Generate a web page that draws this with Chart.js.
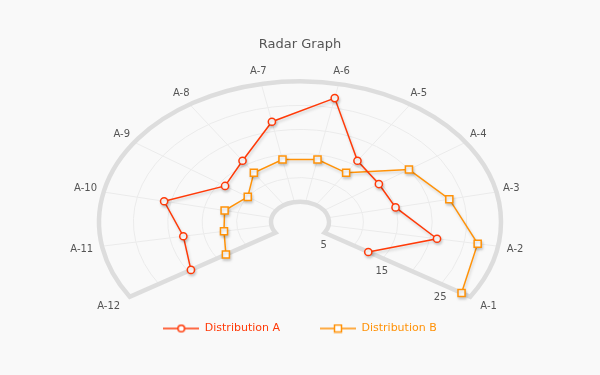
<!DOCTYPE html>
<html>
<head>
<meta charset="utf-8">
<title>Radar Graph</title>
<script src="https://cdn.jsdelivr.net/npm/chart.js@4.4.1/dist/chart.umd.min.js"></script>
<style>
    html, body { margin: 0; padding: 0; background: #f9f9f9; }
    #chartWrap { width: 600px; height: 375px; }
</style>
</head>
<body>
<div id="chartWrap"><canvas id="radarChart"></canvas></div>
<script>
var categories = ['A-1', 'A-2', 'A-3', 'A-4', 'A-5', 'A-6', 'A-7', 'A-8', 'A-9', 'A-10', 'A-11', 'A-12'];
var distributionA = [12.5, 21, 15, 14.7, 16, 27, 22, 16, 14, 21, 18, 19.5];
var distributionB = [28.5, 27, 23, 20, 13, 14, 14, 13, 10, 12, 12, 13.5];
var tickLabels = [5, 15, 25];
var gridValues = [10, 15, 20, 25];
var scaleMin = 5;
var scaleMax = 30;

var RED = '#ff3a08';
var ORANGE = '#ff9208';
var TEXT = '#555555';

//-------------
//- Geometry of the open radar -
//--------------
var STEP_DEG = 22.2;      // angle between two categories
var FLATTEN = 0.70;       // vertical squash of the radar
var HOLE = 29;            // inner hole radius in px
var CENTER_X = 300;
var CENTER_Y = 222;
var OUTER = 201;
var LABEL_PAD = 7;

// chart runs clockwise, the picture runs A-1 -> A-12 counter clockwise;
// one empty slot at the end keeps the line from closing
function toChartOrder(arr, empty) {
    return arr.slice().reverse().concat([empty]);
}

class PartialRadarScale extends Chart.RadialLinearScale {
    setCenterPoint() {
        this.xCenter = CENTER_X;
        this.yCenter = CENTER_Y;
        this.drawingArea = OUTER;
    }
    getIndexAngle(index) {
        var a = ((this.options.startAngle || 0) + index * STEP_DEG) * Math.PI / 180;
        a = a % (Math.PI * 2);
        return a < 0 ? a + Math.PI * 2 : a;
    }
    getDistanceFromCenterForValue(value) {
        if (value === null || value === undefined || isNaN(value)) {
            return NaN;
        }
        var t = (value - this.min) / (this.max - this.min);
        return HOLE + t * (this.drawingArea - HOLE);
    }
    getPointPosition(index, distance, additionalAngle) {
        var angle = this.getIndexAngle(index) - Math.PI / 2 + (additionalAngle || 0);
        return {
            x: Math.cos(angle) * distance + this.xCenter,
            y: Math.sin(angle) * distance * FLATTEN + this.yCenter,
            angle: angle
        };
    }
}
PartialRadarScale.id = 'partialRadar';
PartialRadarScale.defaults = Chart.RadialLinearScale.defaults;
Chart.register(PartialRadarScale);

function arcRange(scale) {
    var a0 = scale.getIndexAngle(0) - Math.PI / 2;
    var a1 = scale.getIndexAngle(categories.length - 1) - Math.PI / 2;
    if (a1 < a0) {
        a1 += Math.PI * 2;
    }
    return [a0, a1];
}

var framePlugin = {
    id: 'partialFrame',
    beforeDatasetsDraw: function (chart) {
        var ctx = chart.ctx;
        var scale = chart.scales.r;
        var range = arcRange(scale);
        var xc = scale.xCenter, yc = scale.yCenter;

        ctx.save();
        // rings
        ctx.lineWidth = 1;
        ctx.strokeStyle = '#ebebeb';
        gridValues.forEach(function (v) {
            var d = scale.getDistanceFromCenterForValue(v);
            ctx.beginPath();
            ctx.ellipse(xc, yc, d, d * FLATTEN, 0, range[0], range[1]);
            ctx.stroke();
        });
        // spokes
        for (var i = 0; i < categories.length; i++) {
            var p0 = scale.getPointPosition(i, HOLE);
            var p1 = scale.getPointPosition(i, scale.drawingArea);
            ctx.beginPath();
            ctx.moveTo(p0.x, p0.y);
            ctx.lineTo(p1.x, p1.y);
            ctx.stroke();
        }
        // thick border
        var innerEnd = scale.getPointPosition(categories.length - 1, HOLE);
        ctx.beginPath();
        ctx.ellipse(xc, yc, scale.drawingArea, scale.drawingArea * FLATTEN, 0, range[0], range[1]);
        ctx.lineTo(innerEnd.x, innerEnd.y);
        ctx.ellipse(xc, yc, HOLE, HOLE * FLATTEN, 0, range[1], range[0], true);
        ctx.closePath();
        ctx.lineWidth = 4.5;
        ctx.strokeStyle = '#dddddd';
        ctx.stroke();
        ctx.restore();

        // the frame reaches below the legend's top, so let points draw on the whole canvas
        chart._plotArea = chart.chartArea;
        chart.chartArea = { left: 0, top: 0, right: chart.width, bottom: chart.height, width: chart.width, height: chart.height };

        // soft shadow under the series
        ctx.save();
        ctx.shadowColor = 'rgba(0,0,0,0.18)';
        ctx.shadowBlur = 3;
        ctx.shadowOffsetX = 1;
        ctx.shadowOffsetY = 2;
    },
    afterDatasetsDraw: function (chart) {
        var ctx = chart.ctx;
        var scale = chart.scales.r;
        ctx.restore();
        chart.chartArea = chart._plotArea;

        ctx.save();
        ctx.font = '10px "DejaVu Sans"';
        ctx.fillStyle = TEXT;
        ctx.textAlign = 'center';
        ctx.textBaseline = 'middle';
        for (var i = 0; i < categories.length; i++) {
            var text = chart.data.labels[i];
            var base = scale.getPointPosition(i, scale.drawingArea);
            var w = ctx.measureText(text).width;
            var c = Math.cos(base.angle), s = Math.sin(base.angle);
            var x = base.x + c * (LABEL_PAD + w / 2);
            var y = base.y + s * (LABEL_PAD + 5) - 1;
            if (s > 0) {
                // labels under the centre sit a little further out
                x += c * 12 * s;
                y += 1 + 7 * s;
            }
            ctx.fillText(text, x, y);
        }
        // value labels along the A-1 edge
        var axisIndex = categories.length - 1;
        tickLabels.forEach(function (v) {
            var p = scale.getPointPositionForValue(axisIndex, v);
            ctx.fillText(String(v), p.x - 1, p.y + 13);
        });
        ctx.restore();
    }
};

function legendMarker(color, style) {
    var c = document.createElement('canvas');
    c.width = 36;
    c.height = 10;
    var g = c.getContext('2d');
    g.strokeStyle = color;
    g.lineWidth = 1.5;
    g.beginPath();
    g.moveTo(0, 5);
    g.lineTo(36, 5);
    g.stroke();
    g.fillStyle = '#ffffff';
    if (style === 'circle') {
        g.beginPath();
        g.arc(18, 5, 3.3, 0, Math.PI * 2);
        g.fill();
        g.stroke();
    } else {
        g.fillRect(14.5, 1.5, 7, 7);
        g.strokeRect(14.5, 1.5, 7, 7);
    }
    return c;
}

var seriesColors = [RED, ORANGE];
var seriesMarkers = [legendMarker(RED, 'circle'), legendMarker(ORANGE, 'rect')];
// A-12 sits here (degrees clockwise from the top); the gap is centred at the bottom
var firstAngle = 180 + (360 - (categories.length - 1) * STEP_DEG) / 2;

var chart = new Chart(document.getElementById('radarChart'), {
    type: 'radar',
    data: {
        labels: toChartOrder(categories, ''),
        datasets: [{
            label: 'Distribution A',
            data: toChartOrder(distributionA, null),
            borderColor: RED,
            backgroundColor: RED,
            borderWidth: 1.5,
            fill: false,
            clip: false,
            spanGaps: false,
            pointStyle: 'circle',
            pointRadius: 3.6,
            pointBorderWidth: 1.5,
            pointBackgroundColor: '#ffffff',
            pointBorderColor: RED
        }, {
            label: 'Distribution B',
            data: toChartOrder(distributionB, null),
            borderColor: ORANGE,
            backgroundColor: ORANGE,
            borderWidth: 1.5,
            fill: false,
            clip: false,
            spanGaps: false,
            pointStyle: 'rect',
            pointRadius: 5,
            pointBorderWidth: 1.5,
            pointBackgroundColor: '#ffffff',
            pointBorderColor: ORANGE
        }]
    },
    options: {
        responsive: true,
        maintainAspectRatio: false,
        animation: false,
        layout: { padding: { bottom: 31 } },
        scales: {
            r: {
                type: 'partialRadar',
                min: scaleMin,
                max: scaleMax,
                startAngle: firstAngle,
                ticks: { display: false, stepSize: 5 },
                grid: { display: false },
                angleLines: { display: false },
                pointLabels: { display: false }
            }
        },
        plugins: {
            title: {
                display: true,
                text: 'Radar Graph',
                color: TEXT,
                font: { family: 'DejaVu Sans', size: 13, weight: 'normal' },
                padding: { top: 37, bottom: 10 }
            },
            legend: {
                position: 'bottom',
                labels: {
                    usePointStyle: true,
                    pointStyleWidth: 36,
                    boxHeight: 10,
                    padding: 40,
                    font: { family: 'DejaVu Sans', size: 11 },
                    generateLabels: function (chart) {
                        var items = Chart.defaults.plugins.legend.labels.generateLabels(chart);
                        items.forEach(function (item, i) {
                            item.fontColor = seriesColors[i];
                            item.pointStyle = seriesMarkers[i];
                        });
                        return items;
                    }
                }
            },
            tooltip: { enabled: false }
        }
    },
    plugins: [framePlugin]
});
</script>
</body>
</html>
